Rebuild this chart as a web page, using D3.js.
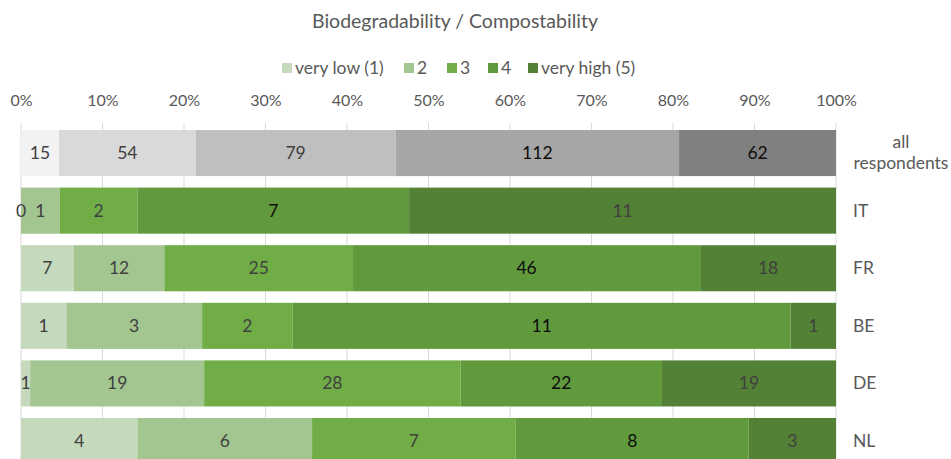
<!DOCTYPE html>
<html><head><meta charset="utf-8">
<script src="https://cdn.jsdelivr.net/npm/d3@7"></script>
<style>body{margin:0;background:#fff;} svg{display:block;font-family:Lato, "Open Sans", sans-serif;}</style>
</head><body>
<svg id="chart" width="951" height="459"></svg>
<script>
const title = "Biodegradability / Compostability";
const categories = ["all respondents", "IT", "FR", "BE", "DE", "NL"];
const seriesNames = ["very low (1)", "2", "3", "4", "very high (5)"];
const allRespondents = [15, 54, 79, 112, 62];
const IT = [0, 1, 2, 7, 11];
const FR = [7, 12, 25, 46, 18];
const BE = [1, 3, 2, 11, 1];
const DE = [1, 19, 28, 22, 19];
const NL = [4, 6, 7, 8, 3];
const tickValues = [0, 0.1, 0.2, 0.3, 0.4, 0.5, 0.6, 0.7, 0.8, 0.9, 1.0];

const rowValues = [allRespondents, IT, FR, BE, DE, NL];
const greens = ["#c5d9bc", "#a3c590", "#70ad47", "#609a3d", "#538135"];
const grays = ["#f2f2f2", "#d9d9d9", "#bfbfbf", "#a6a6a6", "#808080"];

const svg = d3.select("#chart");
const x = d3.scaleLinear().domain([0, 1]).range([21, 836]);
const step = 57.6;
const y = d3.scaleBand().domain(categories).range([130 - 0.1*step, 130 - 0.1*step + 6*step]).paddingInner(0.2).paddingOuter(0.1);

// title
svg.append("text").attr("x", 455).attr("y", 28).attr("text-anchor", "middle")
  .attr("font-size", 19.5).attr("fill", "#595959").text(title);

// legend
const legendX = [282, 404, 447, 488, 528];
const lg = svg.append("g");
seriesNames.forEach((n, i) => {
  lg.append("rect").attr("x", legendX[i]).attr("y", 63).attr("width", 10).attr("height", 10).attr("fill", greens[i]);
  lg.append("text").attr("x", legendX[i] + 13).attr("y", 74).attr("font-size", 17.5).attr("fill", "#595959").text(n);
});

// gridlines
svg.append("g").selectAll("line").data(tickValues).join("line")
  .attr("x1", d => x(d)).attr("x2", d => x(d)).attr("y1", 123).attr("y2", 459)
  .attr("stroke", "#d9d9d9").attr("stroke-width", 1);

// top axis
const axis = d3.axisTop(x).tickValues(tickValues).tickFormat(d3.format(".0%")).tickSize(0).tickPadding(0);
const ag = svg.append("g").attr("transform", "translate(0,106)").call(axis);
ag.select(".domain").remove();
ag.selectAll("text").attr("font-size", 16).attr("fill", "#595959").attr("font-family", "Lato, sans-serif");

// bars
categories.forEach((c, r) => {
  const vals = rowValues[r];
  const total = d3.sum(vals);
  const cols = r === 0 ? grays : greens;
  let cum = 0;
  const segs = vals.map((v, i) => { const s = {v, i, x0: cum / total, x1: (cum + v) / total}; cum += v; return s; });
  const g = svg.append("g");
  g.selectAll("rect").data(segs).join("rect")
    .attr("x", d => x(d.x0)).attr("width", d => x(d.x1) - x(d.x0))
    .attr("y", y(c)).attr("height", y.bandwidth()).attr("fill", d => cols[d.i]);
  g.selectAll("text").data(segs).join("text")
    .attr("x", d => (x(d.x0) + x(d.x1)) / 2).attr("y", y(c) + y.bandwidth() / 2 + 6)
    .attr("text-anchor", "middle").attr("font-size", 17.5)
    .attr("fill", d => (d.i === 3 || (r === 0 && d.i === 4)) ? "#0d0d0d" : "#404040")
    .text(d => d.v);
});

// row labels
categories.forEach(c => {
  const cy = y(c) + y.bandwidth() / 2;
  if (c === "all respondents") {
    svg.append("text").attr("x", 901).attr("y", cy - 5).attr("text-anchor", "middle").attr("font-size", 17.5).attr("fill", "#595959").text("all");
    svg.append("text").attr("x", 901).attr("y", cy + 16).attr("text-anchor", "middle").attr("font-size", 17.5).attr("fill", "#595959").text("respondents");
  } else {
    svg.append("text").attr("x", 853).attr("y", cy + 6).attr("font-size", 17.5).attr("fill", "#595959").text(c);
  }
});
</script>
</body></html>
